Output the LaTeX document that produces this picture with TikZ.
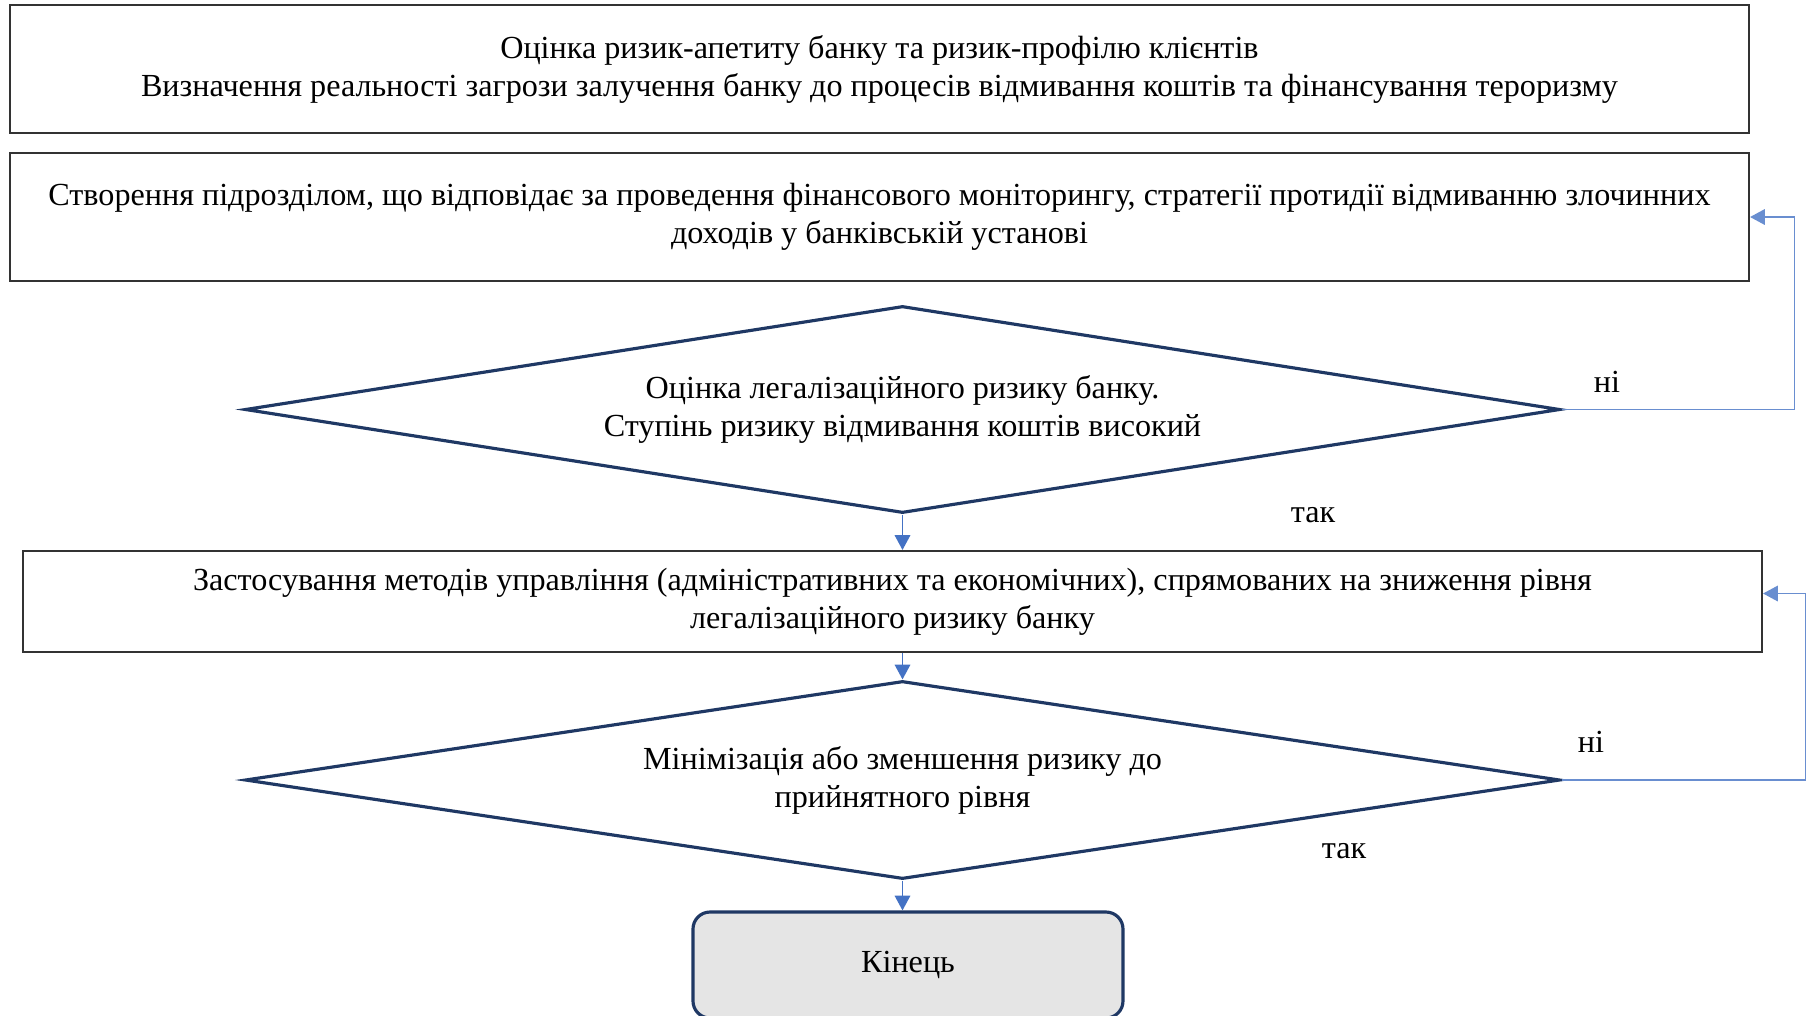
\documentclass[tikz,border=0pt]{standalone}
\usepackage{fontspec}
\setmainfont{Liberation Serif}
\usepackage{tikz}
\usetikzlibrary{arrows.meta,shapes.geometric}
\definecolor{frame}{HTML}{333333}
\definecolor{navy}{HTML}{1F3864}
\definecolor{link}{HTML}{4472C4}
\definecolor{endfill}{HTML}{E5E5E5}
\tikzset{
  stepbox/.style={draw=frame, line width=0.6pt, minimum width=17.39cm, inner sep=0pt, align=center},
  cond/.style={diamond, draw=navy, line width=0.9pt, minimum width=13.15cm, inner sep=0pt, align=center, shape aspect=6.35},
  stop/.style={draw=navy, fill=endfill, line width=0.9pt, rounded corners=0.17cm, minimum width=4.3cm, minimum height=1.06cm},
  flow/.style={draw=link, line width=0.5pt, -{Triangle[width=4.4pt,length=4.2pt]}},
  back/.style={draw=link!80, line width=0.5pt, -{Triangle[width=4.4pt,length=4.2pt]}},
  lab/.style={font=\fontsize{9.15}{10.8}\selectfont},
}

\begin{document}
\begin{tikzpicture}[lab]
  \clip (0,0) rectangle (18.09,-10.15);
  \fill[white] (0,0) rectangle (18.09,-10.15);

  \node[stepbox, minimum height=1.28cm] (risk) at (8.795,-0.69)
    {Оцінка ризик-апетиту банку та ризик-профілю клієнтів\\Визначення реальності загрози залучення банку до процесів відмивання коштів та фінансування тероризму};
  \node[stepbox, minimum height=1.28cm] (strat) at (8.795,-2.17)
    {Створення підрозділом, що відповідає за проведення фінансового моніторингу, стратегії протидії відмиванню злочинних\\доходів у банківській установі};
  \node[cond, minimum height=2.07cm] (high) at (9.025,-4.095)
    {Оцінка легалізаційного ризику банку.\\Ступінь ризику відмивання коштів високий};
  \node[stepbox, minimum height=1.01cm] (manage) at (8.925,-6.015)
    {Застосування методів управління (адміністративних та економічних), спрямованих на зниження рівня\\легалізаційного ризику банку};
  \node[cond, minimum height=1.98cm] (low) at (9.025,-7.80)
    {Мінімізація або зменшення ризику до\\прийнятного рівня};
  \node[stop] (fin) at (9.08,-9.65) {Кінець};

  % так
  \draw[flow] (high.south) -- (high.south |- manage.north);
  \draw[flow] (low.north |- manage.south) -- (low.north);
  \draw[flow] (low.south) -- (low.south |- fin.north);
  % ні
  \draw[back] (high.east) -- ++(2.33,0) |- (strat.east);
  \draw[back] (low.east) -- ++(2.44,0) |- ([yshift=0.08cm]manage.east);

  \node (no1) at (16.07,-3.82) {ні};
  \node (no2) at (15.91,-7.42) {ні};
  \node (yes1) at (13.13,-5.15) {так};
  \node (yes2) at (13.44,-8.51) {так};
\end{tikzpicture}
\end{document}
